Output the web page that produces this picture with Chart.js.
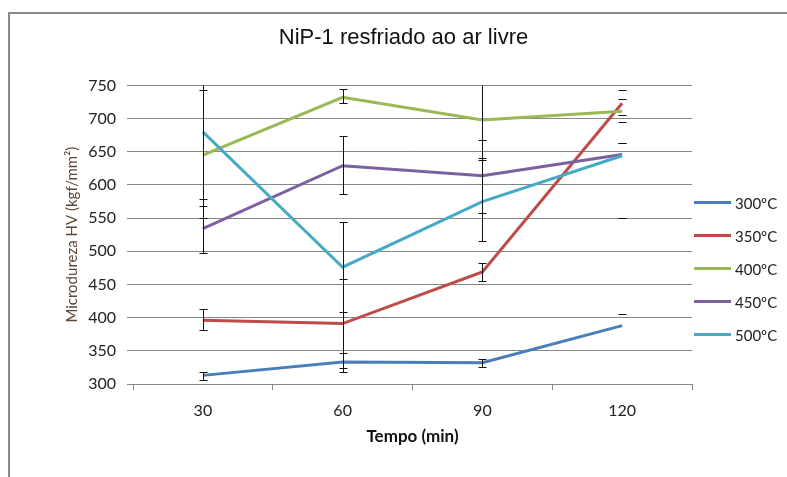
<!DOCTYPE html>
<html>
<head>
<meta charset="utf-8">
<script src="https://cdn.jsdelivr.net/npm/chart.js@4.4.0/dist/chart.umd.min.js"></script>
<style>
  body { margin: 0; background: #fff; width: 787px; height: 477px; overflow: hidden; position: relative; }
  #frame { position: absolute; left: 8px; top: 12px; width: 800px; height: 480px;
           border-left: 2px solid #8a8a8a; border-top: 2px solid #8a8a8a; }
  #activityChart { position: absolute; left: 10px; top: 14px; }
  #legend { position: absolute; left: 694px; top: 186px; font: 15px Lato, sans-serif; color: #222; }
  .item { height: 33px; display: flex; align-items: center; }
  .swatch { width: 37px; height: 3px; margin-right: 4px; }
</style>
</head>
<body>
<div id="frame"></div>
<canvas id="activityChart" width="787" height="463"></canvas>
<div id="legend"></div>
<script>
const tempo = ['30', '60', '90', '120'];
const seriesNames = ['300ºC', '350ºC', '400ºC', '450ºC', '500ºC'];

// mean hardness per temperature
const hv300 = [313, 333, 332, 388];
const hv350 = [396, 391, 469, 723];
const hv400 = [645, 732, 698, 711];
const hv450 = [534, 629, 614, 646];
const hv500 = [680, 476, 575, 644];

// error bars (up / down), null = no whisker
const hv300Up = [5, 13, 6, 18];
const hv300Down = [7, 15, 6, null];
const hv350Up = [17, 67, 14, 20];
const hv350Down = [15, 67, 14, 18];
const hv400Up = [98, 12, 60, 18];
const hv400Down = [95, 9, 58, 16];
const hv450Up = [35, 45, 53, 17];
const hv450Down = [36, 43, 56, 96];
const hv500Up = [101, 68, 62, 19];
const hv500Down = [101, 68, 59, 94];

// at 120 min the original shows only the caps
const stemHidden = [false, false, false, true];

const colors = ['#4a7ebb', '#be4b48', '#98b954', '#7d60a0', '#46aac5'];
const values = [hv300, hv350, hv400, hv450, hv500];
const ups = [hv300Up, hv350Up, hv400Up, hv450Up, hv500Up];
const downs = [hv300Down, hv350Down, hv400Down, hv450Down, hv500Down];

const datasets = seriesNames.map((name, i) => ({
    label: name,
    data: values[i],
    errUp: ups[i],
    errDown: downs[i],
    borderColor: colors[i],
    backgroundColor: colors[i],
    borderWidth: 3,
    pointRadius: 0,
    tension: 0,
    order: seriesNames.length - i
}));

const errorBars = {
    id: 'errorBars',
    afterDatasetsDraw(chart) {
        const { ctx, chartArea, scales } = chart;
        const x = scales.x, y = scales.y;
        ctx.save();
        ctx.beginPath();
        ctx.rect(chartArea.left, chartArea.top, chartArea.right - chartArea.left, chartArea.bottom - chartArea.top + 1);
        ctx.clip();
        ctx.strokeStyle = '#111';
        ctx.lineWidth = 1;
        chart.data.datasets.forEach(ds => {
            ds.data.forEach((v, i) => {
                const px = Math.round(x.getPixelForValue(i)) + 0.5;
                const up = ds.errUp[i], down = ds.errDown[i];
                const yMid = y.getPixelForValue(v);
                const yTop = up == null ? yMid : Math.round(y.getPixelForValue(v + up)) + 0.5;
                const yBot = down == null ? yMid : Math.round(y.getPixelForValue(v - down)) + 0.5;
                ctx.beginPath();
                if (!stemHidden[i]) {
                    ctx.moveTo(px, yTop);
                    ctx.lineTo(px, yBot);
                }
                if (up != null) {
                    ctx.moveTo(px - 4, yTop);
                    ctx.lineTo(px + 4, yTop);
                }
                if (down != null) {
                    ctx.moveTo(px - 4, yBot);
                    ctx.lineTo(px + 4, yBot);
                }
                ctx.stroke();
            });
        });
        ctx.restore();
    }
};

let ctx = document.getElementById('activityChart').getContext('2d');
let hardnessChart = new Chart(ctx, {
    type: 'line',
    data: { labels: tempo, datasets: datasets },
    plugins: [errorBars],
    options: {
        responsive: false,
        animation: false,
        devicePixelRatio: 1,
        layout: { padding: 0 },
        plugins: {
            legend: { display: false },
            tooltip: { enabled: false },
            title: {
                display: true,
                text: 'NiP-1 resfriado ao ar livre',
                color: '#111',
                font: { family: 'Liberation Sans', size: 22, weight: 'normal' },
                padding: { top: 11, bottom: 34 }
            }
        },
        scales: {
            x: {
                offset: true,
                grid: { offset: true, drawOnChartArea: false, tickLength: 6, color: '#868686' },
                border: { color: '#868686' },
                ticks: { color: '#222', padding: 11, font: { family: 'Lato', size: 16 } },
                title: {
                    display: true, text: 'Tempo (min)', color: '#111',
                    font: { family: 'Lato', size: 17, weight: 'bold' },
                    padding: { top: 0, bottom: 30 }
                },
                afterFit: s => { s.height = 93; }
            },
            y: {
                min: 300,
                max: 750,
                ticks: { stepSize: 50, color: '#222', padding: 11, font: { family: 'Lato', size: 16 } },
                grid: { color: '#868686', tickLength: 6 },
                border: { display: false },
                title: {
                    display: true, text: 'Microdureza HV (kgf/mm²)', color: '#5b4636',
                    font: { family: 'Lato', size: 15 },
                    padding: { top: 53, bottom: 0 }
                },
                afterFit: s => { s.width = 123; }
            },
            // empty right-hand space where the legend sits
            legendSpace: {
                position: 'right',
                min: 0,
                max: 1,
                ticks: { display: false },
                grid: { display: false },
                border: { display: false },
                afterFit: s => { s.width = 105; }
            }
        }
    }
});

// legend built from the datasets
const legend = document.getElementById('legend');
datasets.forEach(ds => {
    const row = document.createElement('div');
    row.className = 'item';
    const sw = document.createElement('div');
    sw.className = 'swatch';
    sw.style.background = ds.borderColor;
    const label = document.createElement('span');
    label.textContent = ds.label;
    row.appendChild(sw);
    row.appendChild(label);
    legend.appendChild(row);
});
</script>
</body>
</html>
